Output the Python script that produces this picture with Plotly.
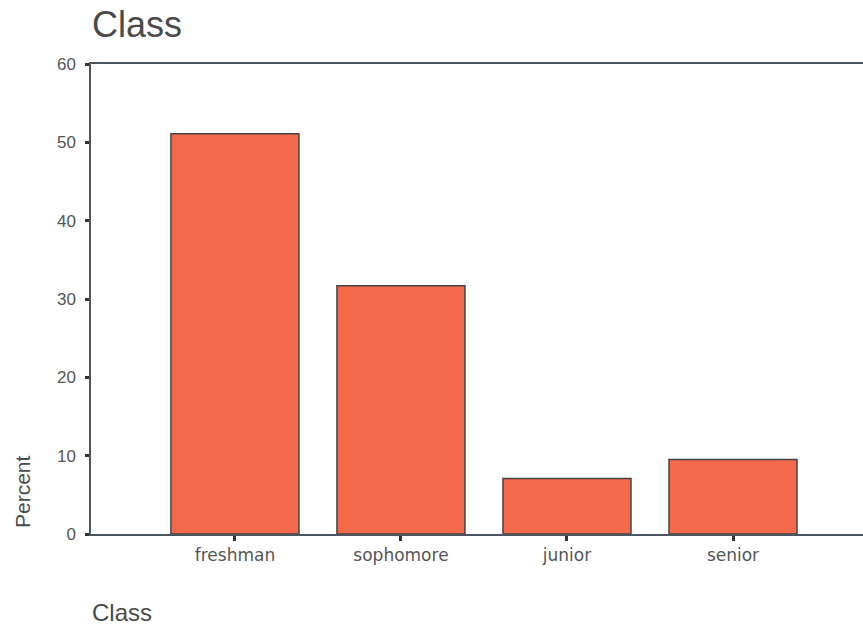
import plotly.graph_objects as go

categories = ["freshman", "sophomore", "junior", "senior"]
percent = [51.1, 31.7, 7.1, 9.5]
y_ticks = [0, 10, 20, 30, 40, 50, 60]

W, H = 863, 625
L, T, R, B = 91, 64, 863, 534
pw, ph = R - L, B - T

fig = go.Figure()
fig.add_trace(go.Bar(
    x=list(range(len(categories))), y=percent,
    width=0.771,
    marker=dict(color="#F3694A", line=dict(color="#444444", width=1.5)),
    hoverinfo="skip",
))

font = "Liberation Sans, Arial, sans-serif"
fig.update_layout(
    width=W, height=H,
    margin=dict(l=L, r=W - R, t=T, b=H - B, pad=0),
    paper_bgcolor="white", plot_bgcolor="white",
    showlegend=False,
    font=dict(family=font, color="#444444"),
    xaxis=dict(
        range=[-0.867, 3.783], tickvals=list(range(len(categories))), ticktext=categories,
        showline=True, linecolor="#4a5560", linewidth=1.5, mirror=True,
        ticks="outside", ticklen=5, tickwidth=3, tickcolor="#333333",
        tickfont=dict(size=17, color="#555555", family="DejaVu Sans, sans-serif"),
        showgrid=False, zeroline=False,
    ),
    yaxis=dict(
        range=[0, 60], tickvals=y_ticks,
        showline=True, linecolor="#4a5560", linewidth=1.5,
        ticks="outside", ticklen=4, tickwidth=3, tickcolor="#333333",
        tickfont=dict(size=17, color="#555555"), ticklabelstandoff=6,
        showgrid=False, zeroline=False,
    ),
)
fig.add_annotation(text="Class", xref="paper", yref="paper", x=(90 - L) / pw, y=1 + (T - 25) / ph,
                   xanchor="left", yanchor="middle", showarrow=False,
                   font=dict(size=36, color="#4a4a4a", family=font))
fig.add_annotation(text="Class", xref="paper", yref="paper", x=(90 - L) / pw, y=-(612 - B) / ph,
                   xanchor="left", yanchor="middle", showarrow=False,
                   font=dict(size=24, color="#4a4a4a", family=font))
fig.add_annotation(text="Percent", xref="paper", yref="paper", x=-(L - 22) / pw, y=(B - 492) / ph,
                   xanchor="center", yanchor="middle", textangle=-90, showarrow=False,
                   font=dict(size=21, color="#4a4a4a", family=font))

fig.write_html("out.html", config={"displayModeBar": False},
               post_script="document.body.style.margin='0';document.body.style.padding='0';")
